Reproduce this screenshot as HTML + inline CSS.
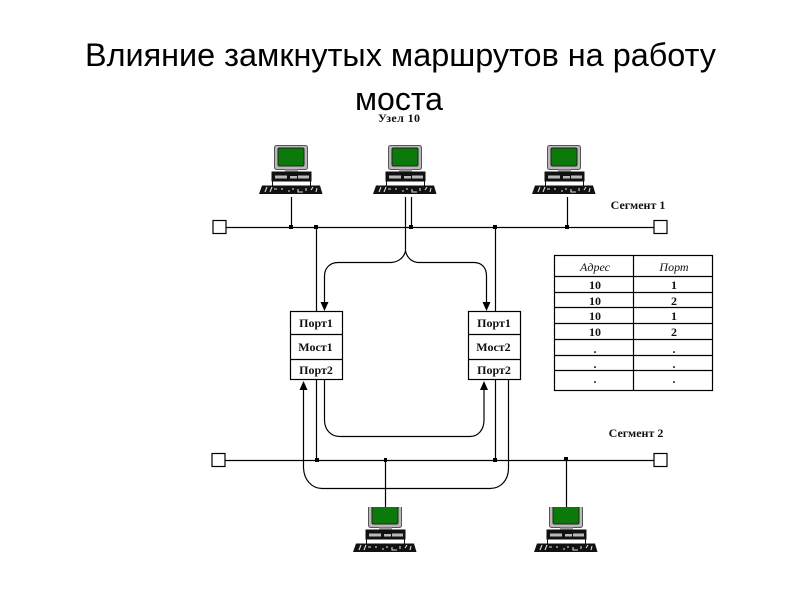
<!DOCTYPE html>
<html><head><meta charset="utf-8"><style>
html,body{margin:0;padding:0;background:#fff}
svg{display:block}
.t{font-family:"Liberation Sans",sans-serif;font-size:32px;fill:#000}
.l{font-family:"Liberation Serif",serif;font-size:12px;font-weight:bold;fill:#111;text-anchor:middle}
.i{font-family:"Liberation Serif",serif;font-size:12px;font-style:italic;fill:#111;text-anchor:middle}
.w{fill:none;stroke:#000;stroke-width:1.2}
</style></head><body>
<svg width="800" height="600" viewBox="0 0 800 600" xmlns="http://www.w3.org/2000/svg">
<defs>
<g id="pc">
<rect x="274.5" y="145.5" width="33" height="24" rx="2" fill="#b8b8b8" stroke="#555"/>
<rect x="278" y="148" width="26" height="18" rx="1.5" fill="#0b7a0b" stroke="#222"/>
<rect x="285" y="169.5" width="13" height="3" fill="#a0a0a0"/>
<rect x="271.5" y="171.5" width="40" height="10" fill="#111"/>
<rect x="275" y="175.5" width="12" height="3" fill="#bbb"/>
<rect x="290" y="176" width="7" height="2.5" fill="#bbb"/>
<rect x="298" y="175.5" width="11" height="3" fill="#bbb"/>
<rect x="272.5" y="181" width="38" height="5" fill="#fff" stroke="#111" stroke-width="1"/>
<polygon points="262,185.5 320,185.5 322.5,194 259,194" fill="#111"/>
<path d="M265 192l2-5M270 192l2-5M274 189h3M282 188v2M288 191h2M293 188v2M298 189v3h5M306 188v3M311 190l2-3M316 192l1-4" stroke="#ddd" stroke-width="1.1" fill="none"/>
</g>
<clipPath id="c1"><rect x="340" y="507" width="100" height="60"/></clipPath>
<clipPath id="c2"><rect x="525" y="507" width="100" height="60"/></clipPath>
</defs>

<text class="t" x="85" y="66" textLength="631" lengthAdjust="spacingAndGlyphs">Влияние замкнутых маршрутов на работу</text>
<text class="t" x="355" y="110" textLength="88" lengthAdjust="spacingAndGlyphs">моста</text>

<text class="l" x="399" y="122" textLength="42" lengthAdjust="spacing">Узел 10</text>
<text class="l" x="638" y="209">Сегмент 1</text>
<text class="l" x="636" y="437">Сегмент 2</text>

<use href="#pc"/>
<use href="#pc" x="114"/>
<use href="#pc" x="273"/>
<g clip-path="url(#c1)"><use href="#pc" x="94" y="358"/></g>
<g clip-path="url(#c2)"><use href="#pc" x="275" y="358"/></g>

<!-- segments -->
<path class="w" d="M226 227.5H654M225 460.5H654"/>
<rect x="213" y="220.5" width="13" height="13" fill="#fff" stroke="#000" stroke-width="1.2"/>
<rect x="654" y="220.5" width="13" height="13" fill="#fff" stroke="#000" stroke-width="1.2"/>
<rect x="212" y="453.5" width="13" height="13" fill="#fff" stroke="#000" stroke-width="1.2"/>
<rect x="654" y="453.5" width="13" height="13" fill="#fff" stroke="#000" stroke-width="1.2"/>

<!-- node drops -->
<path class="w" d="M291.5 197V227M411.5 197V227M567.5 197V227M385.5 460V507M566.5 460V507"/>

<!-- top curves -->
<path class="w" d="M405.5 197V251C404 258 398 262 391 262.5H338C330 262.5 324.5 268 324.5 276V304"/>
<path class="w" d="M405.5 251C407 258 412 262 418 262.5H474C482 262.5 486.5 268 486.5 276V304"/>
<path class="w" d="M316.5 227V312M495.5 227V312"/>
<polygon points="320.5,302 328.5,302 324.5,311" fill="#000"/>
<polygon points="482.5,302 490.5,302 486.5,311" fill="#000"/>

<!-- bottom wiring -->
<path class="w" d="M316.5 380V460M495.5 380V460"/>
<path class="w" d="M324.5 380V420C324.5 430 331 436.5 340 436.5H470C478 436.5 484 430 484 420V390"/>
<path class="w" d="M303.5 390V468C304 480 312 488.5 322 488.5H490C501 488.5 508.5 480 508.5 468V380"/>
<polygon points="303.5,381 299.5,390 307.5,390" fill="#000"/>
<polygon points="484,381 480,390 488,390" fill="#000"/>

<!-- junctions -->
<g fill="#000">
<rect x="289" y="225" width="4" height="4"/><rect x="314" y="225" width="4" height="4"/>
<rect x="409" y="225" width="4" height="4"/><rect x="493" y="225" width="4" height="4"/>
<rect x="565" y="225" width="4" height="4"/>
<rect x="315" y="458" width="4" height="4"/><rect x="384" y="458" width="3" height="4"/>
<rect x="493" y="458" width="4" height="4"/><rect x="564" y="457" width="4" height="4"/>
</g>

<!-- bridges -->
<g fill="#fff" stroke="#000" stroke-width="1.2">
<rect x="290.5" y="311.5" width="52" height="68"/>
<rect x="468.5" y="311.5" width="52" height="68"/>
</g>
<path class="w" d="M290.5 334.5H342.5M290.5 359.5H342.5M468.5 334.5H520.5M468.5 359.5H520.5"/>
<text class="l" x="316" y="327">Порт1</text>
<text class="l" x="315.5" y="351">Мост1</text>
<text class="l" x="316" y="374">Порт2</text>
<text class="l" x="494" y="327">Порт1</text>
<text class="l" x="493.5" y="351">Мост2</text>
<text class="l" x="494" y="374">Порт2</text>

<!-- table -->
<rect x="554.5" y="255.5" width="158" height="135" fill="#fff" stroke="#000" stroke-width="1.2"/>
<path class="w" d="M633.5 255.5V390.5M554.5 276.5H712.5M554.5 292.5H712.5M554.5 307.5H712.5M554.5 323.5H712.5M554.5 339.5H712.5M554.5 355.5H712.5M554.5 370.5H712.5"/>
<text class="i" x="595" y="271">Адрес</text>
<text class="i" x="674" y="271">Порт</text>
<text class="l" x="595" y="289">10</text><text class="l" x="674" y="289">1</text>
<text class="l" x="595" y="305">10</text><text class="l" x="674" y="305">2</text>
<text class="l" x="595" y="320">10</text><text class="l" x="674" y="320">1</text>
<text class="l" x="595" y="336">10</text><text class="l" x="674" y="336">2</text>
<text class="l" x="595" y="353">.</text><text class="l" x="674" y="353">.</text>
<text class="l" x="595" y="368">.</text><text class="l" x="674" y="368">.</text>
<text class="l" x="595" y="383">.</text><text class="l" x="674" y="383">.</text>
</svg>
</body></html>
